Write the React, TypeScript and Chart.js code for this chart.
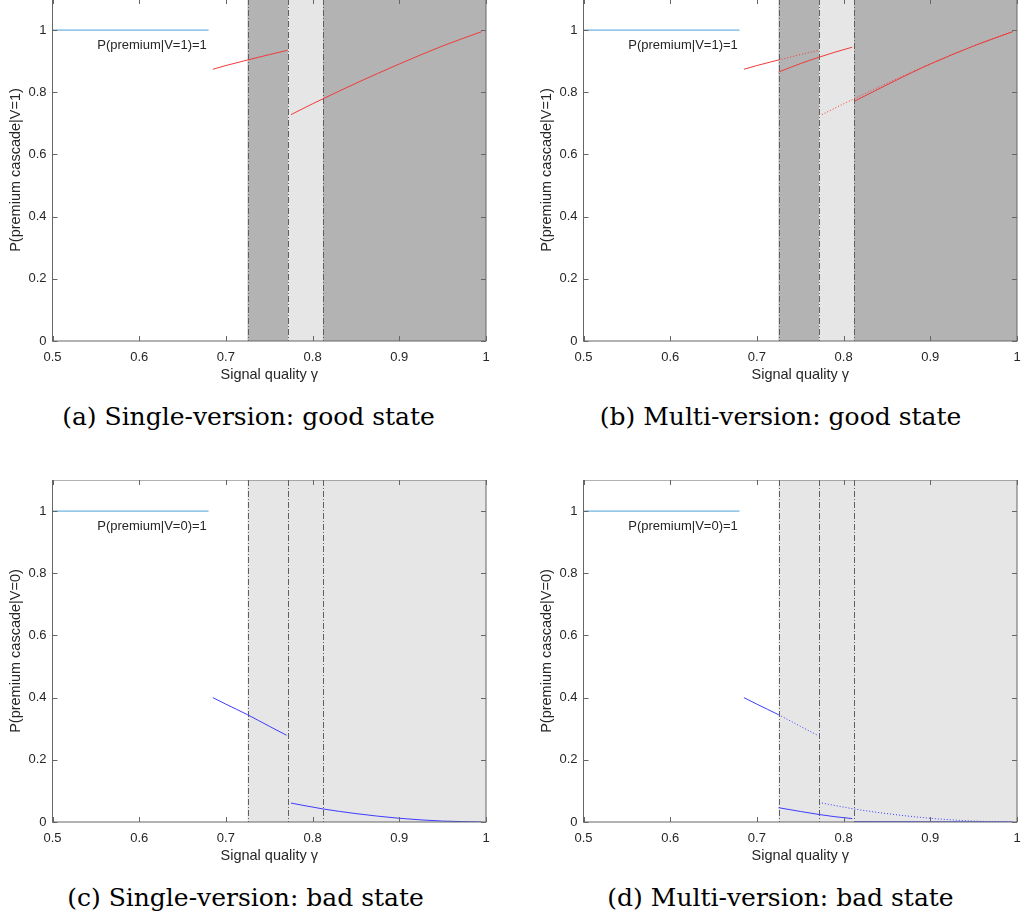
import React, { useEffect, useRef } from "react";
import { Chart, registerables } from "chart.js";
Chart.register(...registerables);

// ---------------- data ----------------
const xTickValues = [0.5, 0.6, 0.7, 0.8, 0.9, 1];
const yTickValues = [0, 0.2, 0.4, 0.6, 0.8, 1];
const xMin = 0.5;
const xMax = 1;
const yMin = 0;
const yMax = 1.1;

// regime thresholds (dash-dot lines)
const thresholds = [0.725, 0.772, 0.812];

// shaded regimes
const goodBandStart = [0.725, 0.772, 0.812];
const goodBandEnd = [0.772, 0.812, 1];
const goodBandLevel = ["dark", "light", "dark"];
const badBandStart = [0.725];
const badBandEnd = [1];
const badBandLevel = ["light"];

// uninformative region: premium always bought
const flatX = [0.5, 0.68];
const flatY = [1, 1];
const flatLabelGood = "P(premium|V=1)=1";
const flatLabelBad = "P(premium|V=0)=1";
const flatLabelX = 0.678;
const flatLabelY = 0.95;

// good state, single version
const goodSingle1X = [0.685, 0.7, 0.725, 0.75, 0.771];
const goodSingle1Y = [0.874, 0.886, 0.904, 0.921, 0.935];
const goodSingle2X = [0.775, 0.8, 0.812, 0.85, 0.9, 0.95, 0.995];
const goodSingle2Y = [0.728, 0.763, 0.779, 0.829, 0.891, 0.949, 0.995];
// good state, multi version
const goodMulti1X = [0.725, 0.75, 0.772, 0.79, 0.81];
const goodMulti1Y = [0.865, 0.892, 0.913, 0.929, 0.945];
const goodMulti2X = [0.813, 0.85, 0.88, 0.9, 0.95, 0.995];
const goodMulti2Y = [0.772, 0.824, 0.865, 0.891, 0.949, 0.995];

// bad state, single version
const badSingle1X = [0.685, 0.7, 0.725, 0.75, 0.77];
const badSingle1Y = [0.4, 0.379, 0.345, 0.308, 0.279];
const badSingle2X = [0.775, 0.79, 0.812, 0.85, 0.9, 0.95, 0.995];
const badSingle2Y = [0.061, 0.053, 0.042, 0.027, 0.012, 0.003, 0.0];
// bad state, multi version
const badMulti1X = [0.725, 0.75, 0.772, 0.79, 0.81];
const badMulti1Y = [0.046, 0.034, 0.024, 0.017, 0.011];
const badMulti2X = [0.813, 0.9, 0.995];
const badMulti2Y = [0.001, 0.0005, 0.0];

const captions = [
  "(a) Single-version: good state",
  "(b) Multi-version: good state",
  "(c) Single-version: bad state",
  "(d) Multi-version: bad state",
];

// ---------------- styles ----------------
const SANS = "'Liberation Sans', Arial, Helvetica, sans-serif";
const TEXT = "#262626";
const SHADE: Record<string, string> = { dark: "#b3b3b3", light: "#e6e6e6" };
const FLAT_BLUE = "#4aa0de";
const RED = "#ee3b3b";
const BLUE = "#3c3cff";
const DOTTED = [1, 2];

const pts = (xs: number[], ys: number[]) => xs.map((x, i) => ({ x, y: ys[i] }));

type Series = {
  xs: number[];
  ys: number[];
  color: string;
  dotted?: boolean;
  dottedFrom?: number;
};

type PanelCfg = {
  yTitle: string;
  label: string;
  bandStart: number[];
  bandEnd: number[];
  bandLevel: string[];
  series: Series[];
};

const panels: PanelCfg[] = [
  {
    yTitle: "P(premium cascade|V=1)",
    label: flatLabelGood,
    bandStart: goodBandStart,
    bandEnd: goodBandEnd,
    bandLevel: goodBandLevel,
    series: [
      { xs: flatX, ys: flatY, color: FLAT_BLUE },
      { xs: goodSingle1X, ys: goodSingle1Y, color: RED },
      { xs: goodSingle2X, ys: goodSingle2Y, color: RED },
    ],
  },
  {
    yTitle: "P(premium cascade|V=1)",
    label: flatLabelGood,
    bandStart: goodBandStart,
    bandEnd: goodBandEnd,
    bandLevel: goodBandLevel,
    series: [
      { xs: flatX, ys: flatY, color: FLAT_BLUE },
      { xs: goodSingle1X, ys: goodSingle1Y, color: RED, dottedFrom: thresholds[0] },
      { xs: goodSingle2X, ys: goodSingle2Y, color: RED, dotted: true },
      { xs: goodMulti1X, ys: goodMulti1Y, color: RED },
      { xs: goodMulti2X, ys: goodMulti2Y, color: RED },
    ],
  },
  {
    yTitle: "P(premium cascade|V=0)",
    label: flatLabelBad,
    bandStart: badBandStart,
    bandEnd: badBandEnd,
    bandLevel: badBandLevel,
    series: [
      { xs: flatX, ys: flatY, color: FLAT_BLUE },
      { xs: badSingle1X, ys: badSingle1Y, color: BLUE },
      { xs: badSingle2X, ys: badSingle2Y, color: BLUE },
    ],
  },
  {
    yTitle: "P(premium cascade|V=0)",
    label: flatLabelBad,
    bandStart: badBandStart,
    bandEnd: badBandEnd,
    bandLevel: badBandLevel,
    series: [
      { xs: flatX, ys: flatY, color: FLAT_BLUE },
      { xs: badSingle1X, ys: badSingle1Y, color: BLUE, dottedFrom: thresholds[0] },
      { xs: badSingle2X, ys: badSingle2Y, color: BLUE, dotted: true },
      { xs: badMulti1X, ys: badMulti1Y, color: BLUE },
      { xs: badMulti2X, ys: badMulti2Y, color: BLUE },
    ],
  },
];

const fmt = (v: number) => String(Math.round(v * 10) / 10);

function makeConfig(cfg: PanelCfg, rightPad: number): any {
  const decorations = {
    id: "decorations",
    beforeDatasetsDraw(chart: any) {
      const { ctx, chartArea: a, scales } = chart;
      const xs = scales.x;
      ctx.save();
      cfg.bandStart.forEach((s, i) => {
        const x0 = xs.getPixelForValue(s);
        const x1 = xs.getPixelForValue(cfg.bandEnd[i]);
        ctx.fillStyle = SHADE[cfg.bandLevel[i]];
        ctx.fillRect(x0, a.top, x1 - x0, a.bottom - a.top);
      });
      ctx.strokeStyle = "#5f5f5f";
      ctx.lineWidth = 1;
      ctx.setLineDash([6, 2, 1, 2]);
      thresholds.forEach((t) => {
        const x = Math.round(xs.getPixelForValue(t)) + 0.5;
        ctx.beginPath();
        ctx.moveTo(x, a.top);
        ctx.lineTo(x, a.bottom);
        ctx.stroke();
      });
      ctx.restore();
    },
    afterDatasetsDraw(chart: any) {
      const { ctx, chartArea: a, scales } = chart;
      const xs = scales.x;
      const ys = scales.y;
      ctx.save();
      ctx.strokeStyle = "#666666";
      ctx.lineWidth = 1;
      ctx.setLineDash([]);
      ctx.strokeRect(a.left, a.top, a.right - a.left, a.bottom - a.top);
      const tl = 5;
      ctx.beginPath();
      xTickValues.forEach((v) => {
        const x = Math.round(xs.getPixelForValue(v)) + 0.5;
        ctx.moveTo(x, a.bottom);
        ctx.lineTo(x, a.bottom - tl);
        ctx.moveTo(x, a.top);
        ctx.lineTo(x, a.top + tl);
      });
      yTickValues.forEach((v) => {
        const y = Math.round(ys.getPixelForValue(v)) + 0.5;
        ctx.moveTo(a.left, y);
        ctx.lineTo(a.left + tl, y);
        ctx.moveTo(a.right, y);
        ctx.lineTo(a.right - tl, y);
      });
      ctx.stroke();
      ctx.fillStyle = TEXT;
      ctx.font = `13px ${SANS}`;
      ctx.textAlign = "right";
      ctx.textBaseline = "middle";
      ctx.fillText(cfg.label, xs.getPixelForValue(flatLabelX), ys.getPixelForValue(flatLabelY));
      ctx.restore();
    },
  };

  return {
    type: "line",
    data: {
      datasets: cfg.series.map((s) => ({
        data: pts(s.xs, s.ys),
        borderColor: s.color,
        borderWidth: 1,
        pointRadius: 0,
        fill: false,
        cubicInterpolationMode: "monotone",
        borderDash: s.dotted ? DOTTED : [],
        order: s.dotted || s.dottedFrom !== undefined ? 2 : 1,
        segment:
          s.dottedFrom !== undefined
            ? {
                borderDash: (c: any) =>
                  c.p0.parsed.x >= (s.dottedFrom as number) - 1e-9 ? DOTTED : undefined,
              }
            : undefined,
      })),
    },
    options: {
      animation: false,
      responsive: false,
      maintainAspectRatio: false,
      layout: { padding: { left: 0, top: 0, right: rightPad, bottom: 0 } },
      plugins: { legend: { display: false }, tooltip: { enabled: false } },
      scales: {
        x: {
          type: "linear",
          min: xMin,
          max: xMax,
          afterBuildTicks: (s: any) => {
            s.ticks = xTickValues.map((value) => ({ value }));
          },
          grid: { display: false, drawTicks: false },
          border: { display: false },
          ticks: {
            padding: 9,
            color: TEXT,
            font: { family: SANS, size: 13 },
            maxRotation: 0,
            autoSkip: false,
            callback: (v: any) => fmt(Number(v)),
          },
          title: {
            display: true,
            text: "Signal quality γ",
            color: TEXT,
            font: { family: SANS, size: 14.5 },
            padding: { top: 0, bottom: 2 },
          },
          afterFit: (s: any) => {
            s.height = 45;
            s.paddingLeft = 0;
            s.paddingRight = 0;
          },
        },
        y: {
          type: "linear",
          min: yMin,
          max: yMax,
          afterBuildTicks: (s: any) => {
            s.ticks = yTickValues.map((value) => ({ value }));
          },
          grid: { display: false, drawTicks: false },
          border: { display: false },
          ticks: {
            padding: 6,
            color: TEXT,
            font: { family: SANS, size: 13 },
            autoSkip: false,
            callback: (v: any) => fmt(Number(v)),
          },
          title: {
            display: true,
            text: cfg.yTitle,
            color: TEXT,
            font: { family: SANS, size: 14.5 },
            padding: { top: 7, bottom: 0 },
          },
          afterFit: (s: any) => {
            s.width = 52.5;
            s.paddingTop = 0;
            s.paddingBottom = 0;
          },
        },
      },
    },
    plugins: [decorations],
  };
}

function Panel({ cfg, left, top, width, height, rightPad }: any) {
  const ref = useRef<HTMLCanvasElement>(null);
  useEffect(() => {
    const chart = new Chart(ref.current as HTMLCanvasElement, makeConfig(cfg, rightPad));
    return () => chart.destroy();
  }, []);
  return (
    <canvas
      ref={ref}
      width={width}
      height={height}
      style={{ position: "absolute", left, top, width, height }}
    />
  );
}

function Caption({ text, cx, cy }: { text: string; cx: number; cy: number }) {
  return (
    <div
      style={{
        position: "absolute",
        left: cx - 250,
        top: cy - 15,
        width: 500,
        height: 30,
        lineHeight: "30px",
        textAlign: "center",
        fontFamily: "'DejaVu Serif', serif",
        fontSize: 25,
        color: "#000",
        whiteSpace: "nowrap",
      }}
    >
      {text}
    </div>
  );
}

export default function App() {
  return (
    <div
      style={{
        position: "fixed",
        left: 0,
        top: 0,
        width: 1021,
        height: 919,
        background: "#fff",
        overflow: "hidden",
      }}
    >
      <Panel cfg={panels[0]} left={0} top={-1} width={500} height={387} rightPad={14} />
      <Panel cfg={panels[1]} left={531} top={-1} width={490} height={387} rightPad={4} />
      <Panel cfg={panels[2]} left={0} top={480} width={500} height={387} rightPad={14} />
      <Panel cfg={panels[3]} left={531} top={480} width={490} height={387} rightPad={4} />
      <Caption text={captions[0]} cx={248.5} cy={417} />
      <Caption text={captions[1]} cx={780.5} cy={417} />
      <Caption text={captions[2]} cx={245.5} cy={898} />
      <Caption text={captions[3]} cx={780.5} cy={898} />
    </div>
  );
}
